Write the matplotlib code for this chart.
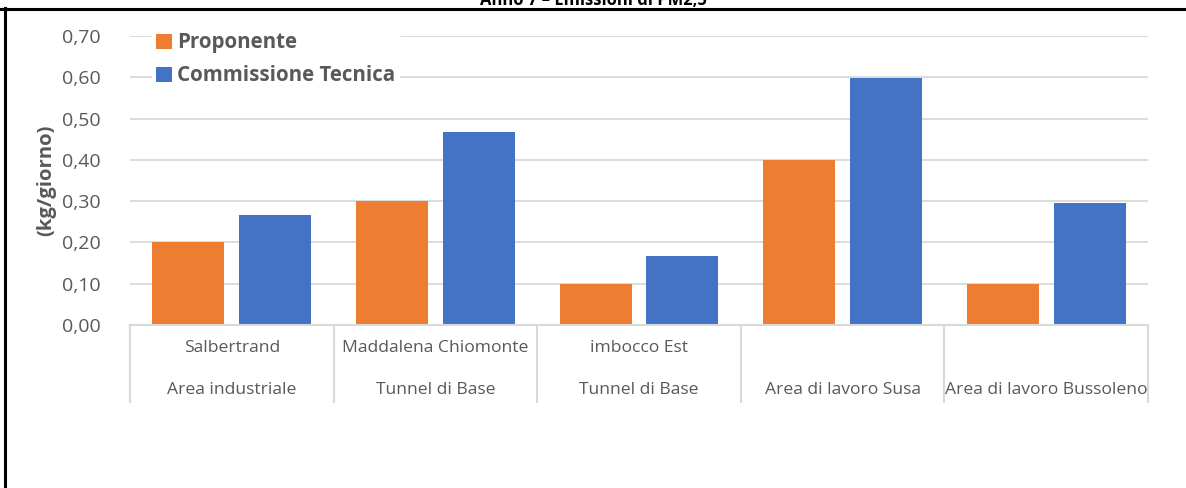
import matplotlib
matplotlib.use("Agg")
import matplotlib.pyplot as plt
from matplotlib.transforms import blended_transform_factory
from matplotlib.lines import Line2D
import numpy as np

title = "Anno 7 – Emissioni di PM2,5"
ylabel = "(kg/giorno)"
series_names = ["Proponente", "Commissione Tecnica"]
sites = ["Salbertrand", "Maddalena Chiomonte", "imbocco Est", "", ""]
groups = ["Area industriale", "Tunnel di Base", "Tunnel di Base",
          "Area di lavoro Susa", "Area di lavoro Bussoleno"]
proponente = [0.20, 0.30, 0.10, 0.40, 0.10]
commissione = [0.267, 0.467, 0.167, 0.598, 0.295]
yticks = [0.0, 0.1, 0.2, 0.3, 0.4, 0.5, 0.6, 0.7]
colors = ["#ED7D31", "#4472C4"]

plt.rcParams['font.family'] = ['Open Sans', 'DejaVu Sans']
W, H = 1186, 488
fig = plt.figure(figsize=(W / 100, H / 100), dpi=100)

def fx(px):
    return px / W

def fy(py):
    return 1 - py / H

ax_left, ax_right, ax_top, ax_bot = 130, 1148, 36, 325
ax = fig.add_axes([fx(ax_left), fy(ax_bot), fx(ax_right - ax_left), (ax_bot - ax_top) / H])

x = np.arange(len(groups))
bw = 0.354
off = 0.213
b1 = ax.bar(x - off, proponente, bw, color=colors[0], zorder=3, label=series_names[0])
b2 = ax.bar(x + off, commissione, bw, color=colors[1], zorder=3, label=series_names[1])

ax.set_xlim(-0.5, len(groups) - 0.5)
ax.set_ylim(0, 0.70)
ax.set_yticks(yticks)
ax.set_yticklabels([f"{v:.2f}".replace(".", ",") for v in yticks])
ax.tick_params(axis='y', length=0, pad=21, labelsize=14, labelcolor="#595959")
ax.set_xticks([])
ax.grid(axis='y', color="#D9D9D9", linewidth=1.3, zorder=0)
for s in ["top", "right", "left"]:
    ax.spines[s].set_visible(False)
ax.spines["bottom"].set_color("#D9D9D9")
ax.spines["bottom"].set_linewidth(1.5)
ax.spines["bottom"].set_zorder(4)

ax.set_ylabel(ylabel, fontsize=14.6, fontweight='bold', color="#595959")
ax.yaxis.set_label_coords((56 - ax_left) / (ax_right - ax_left), 0.5)

# category labels (two levels)
tr = blended_transform_factory(ax.transData, fig.transFigure)
for i in range(len(groups)):
    ax.text(x[i], fy(348), sites[i], transform=tr, ha='center', va='center',
            fontsize=12.6, color="#595959", clip_on=False)
    ax.text(x[i], fy(390), groups[i], transform=tr, ha='center', va='center',
            fontsize=12.6, color="#595959", clip_on=False)
for e in np.arange(len(groups) + 1) - 0.5:
    ax.add_line(Line2D([e, e], [fy(325), fy(402)], transform=tr, color="#D9D9D9",
                       linewidth=1.5, clip_on=False))

leg = ax.legend(handles=[b1, b2], loc='upper left',
                bbox_to_anchor=(fx(142), fy(18)), bbox_transform=fig.transFigure,
                frameon=True, facecolor='white', edgecolor='white', framealpha=1,
                prop={'weight': 'bold', 'size': 14.8}, labelcolor="#595959",
                handlelength=0.75, handleheight=0.75, handletextpad=0.25,
                labelspacing=0.58, borderpad=0.2, fancybox=False)
leg.set_zorder(5)

# frame lines and clipped title
fig.add_artist(Line2D([fx(0), fx(W)], [fy(9), fy(9)], color='black', linewidth=2.2))
fig.add_artist(Line2D([fx(5), fx(5)], [fy(8), fy(H)], color='black', linewidth=2.2))
fig.text(fx(593), fy(5), title, ha='center', va='baseline', fontsize=12,
         fontweight='bold', color='black')

fig.savefig("out.png", dpi=100)
